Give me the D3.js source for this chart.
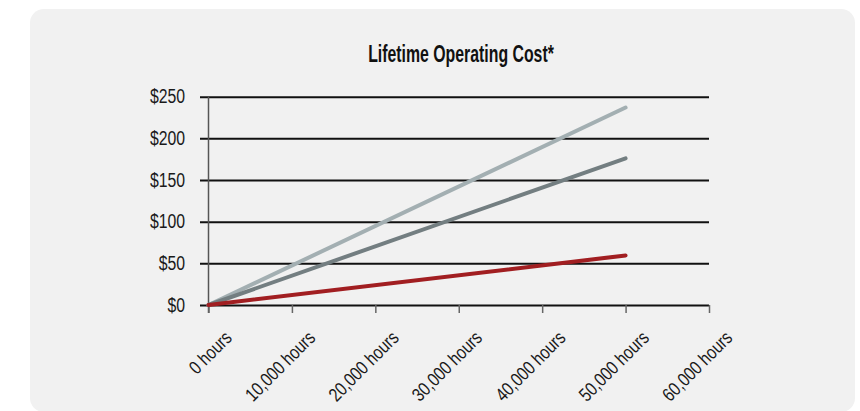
<!DOCTYPE html>
<html lang="en">
<head>
    <meta charset="UTF-8">
    <title>Lifetime Operating Cost</title>
    <style>
        body { margin: 0; background: #fff; }
        text { font-family: "Liberation Sans", Arial, sans-serif; }
    </style>
</head>
<body>
<script src="https://d3js.org/d3.v7.min.js"></script>
<script>
    // data
    let hours = [0, 50000];
    let seriesNames = ['light', 'dark', 'red'];
    let lightCost = [0, 237];
    let darkCost = [0, 176];
    let redCost = [0, 59.5];
    let seriesColors = ['#a3afb2', '#737e81', '#a11e21'];
    let xTicks = [0, 10000, 20000, 30000, 40000, 50000, 60000];
    let yTicks = [0, 50, 100, 150, 200, 250];

    let width = 860;
    let height = 411;
    let plot = { left: 208.5, right: 709, top: 96.7, bottom: 305 };
    // no condensed font installed, so squeeze text horizontally
    let squeeze = 0.81;

    let svg = d3.select('body')
        .append('svg')
        .attr('width', width)
        .attr('height', height);

    // panel
    svg.append('rect')
        .attr('x', 30)
        .attr('y', 9)
        .attr('width', 825)
        .attr('height', 403)
        .attr('rx', 14)
        .attr('fill', '#f1f1f1');

    svg.append('text')
        .attr('transform', 'translate(461,62) scale(0.66,1)')
        .attr('text-anchor', 'middle')
        .attr('font-size', 24)
        .attr('font-weight', 'bold')
        .attr('fill', '#111')
        .text('Lifetime Operating Cost*');

    let xScale = d3.scaleLinear()
        .domain([0, 60000])
        .range([plot.left, plot.right]);
    let yScale = d3.scaleLinear()
        .domain([0, 250])
        .range([plot.bottom, plot.top]);

    // horizontal grid + y labels
    let yAxis = d3.axisLeft(yScale)
        .tickValues(yTicks)
        .tickSize(-(plot.right - 200))
        .tickPadding(15)
        .tickFormat(d => '$' + d);
    let gy = svg.append('g')
        .attr('transform', 'translate(200,0)')
        .call(yAxis);
    gy.select('.domain').remove();
    gy.selectAll('line').attr('stroke', '#111').attr('stroke-width', 2);
    gy.selectAll('text')
        .attr('x', 0)
        .attr('transform', 'translate(-15,0) scale(' + squeeze + ',1)')
        .attr('font-size', 19.5)
        .attr('fill', '#1a1a1a')
        .style('font-family', '"Liberation Sans", Arial, sans-serif');

    // vertical axis line
    svg.append('line')
        .attr('x1', plot.left)
        .attr('x2', plot.left)
        .attr('y1', plot.top)
        .attr('y2', plot.bottom + 8)
        .attr('stroke', '#555')
        .attr('stroke-width', 1.5);

    let xAxis = d3.axisBottom(xScale)
        .tickValues(xTicks)
        .tickSize(8)
        .tickSizeOuter(0)
        .tickFormat(d => d3.format(',')(d) + ' hours');
    let gx = svg.append('g')
        .attr('transform', 'translate(0,' + plot.bottom + ')')
        .call(xAxis);
    gx.select('.domain').remove();
    gx.selectAll('line').attr('stroke', '#666').attr('stroke-width', 1.5);
    gx.selectAll('text')
        .attr('font-size', 19)
        .attr('fill', '#1a1a1a')
        .style('font-family', '"Liberation Sans", Arial, sans-serif')
        .attr('text-anchor', 'end')
        .attr('y', 0)
        .attr('dy', 0)
        .attr('transform', 'translate(24,34) rotate(-45) scale(' + squeeze + ',1)');

    let series = [lightCost, darkCost, redCost];
    let line = d3.line()
        .x((d, i) => xScale(hours[i]))
        .y(d => yScale(d));
    svg.selectAll('path.series')
        .data(series)
        .enter()
        .append('path')
        .attr('class', 'series')
        .attr('d', line)
        .attr('fill', 'none')
        .attr('stroke', (d, i) => seriesColors[i])
        .attr('stroke-width', 4)
        .attr('stroke-linecap', 'round');
</script>
</body>
</html>
